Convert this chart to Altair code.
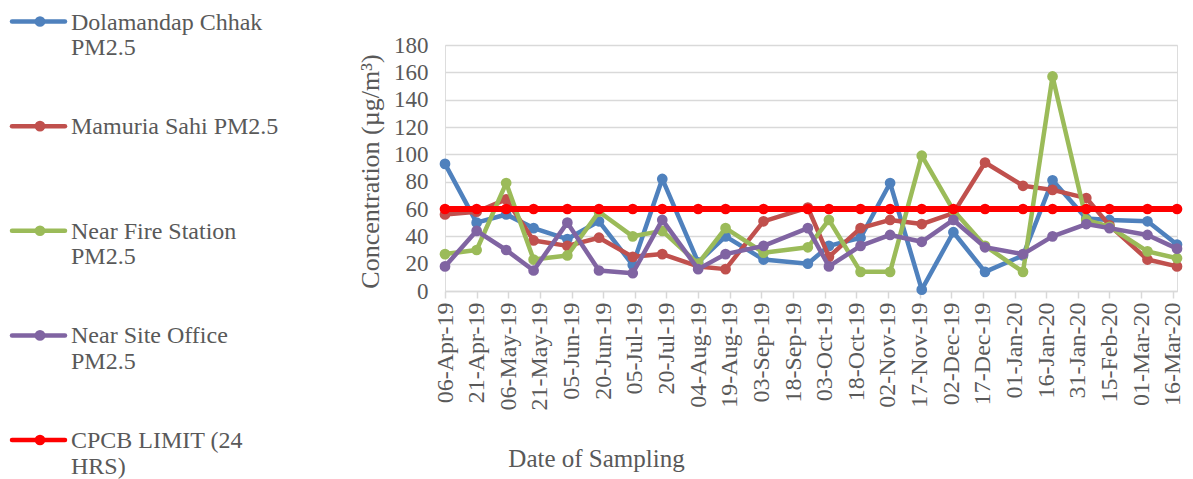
import altair as alt
import pandas as pd
from datetime import datetime, timezone

# ---------------- data ----------------
sample_dates = ["2019-04-06", "2019-04-21", "2019-05-05", "2019-05-18", "2019-06-03",
                "2019-06-18", "2019-07-04", "2019-07-18", "2019-08-04", "2019-08-17",
                "2019-09-04", "2019-09-25", "2019-10-05", "2019-10-20", "2019-11-03",
                "2019-11-18", "2019-12-03", "2019-12-18", "2020-01-05", "2020-01-19",
                "2020-02-04", "2020-02-15", "2020-03-04", "2020-03-18"]

dolamandap = [93, 50, 56, 46, 38, 51, 19, 82, 21, 40, 23, 20, 33, 39, 79, 1, 43, 14, 26, 81, 53, 52, 51, 34]
mamuria    = [56, 58, 67, 37, 33, 39, 25, 27, 18, 16, 51, 61, 25, 46, 52, 49, 57, 94, 77, 74, 68, 48, 23, 18]
fire_stn   = [27, 30, 79, 23, 26, 58, 40, 44, 20, 46, 28, 32, 52, 14, 14, 99, 59, 33, 14, 157, 52, 47, 29, 24]
site_off   = [18, 44, 30, 15, 50, 15, 13, 52, 16, 27, 33, 46, 18, 33, 41, 36, 52, 32, 27, 40, 49, 46, 41, 31]
cpcb_limit = [60] * len(sample_dates)

series_names = ["Dolamandap Chhak PM2.5", "Mamuria Sahi PM2.5", "Near Fire Station PM2.5",
                "Near Site Office PM2.5", "CPCB LIMIT (24 HRS)"]
legend_labels = ["Dolamandap Chhak\nPM2.5", "Mamuria Sahi PM2.5", "Near Fire Station\nPM2.5",
                 "Near Site Office\nPM2.5", "CPCB LIMIT (24\nHRS)"]
series_values = [dolamandap, mamuria, fire_stn, site_off, cpcb_limit]
colors = ["#4F81BD", "#C0504D", "#9BBB59", "#8064A2", "#FF0000"]

tick_dates = ["2019-04-06", "2019-04-21", "2019-05-06", "2019-05-21", "2019-06-05",
              "2019-06-20", "2019-07-05", "2019-07-20", "2019-08-04", "2019-08-19",
              "2019-09-03", "2019-09-18", "2019-10-03", "2019-10-18", "2019-11-02",
              "2019-11-17", "2019-12-02", "2019-12-17", "2020-01-01", "2020-01-16",
              "2020-01-31", "2020-02-15", "2020-03-01", "2020-03-16"]
x_domain = ["2019-04-06", "2020-03-18"]
y_ticks = [0, 20, 40, 60, 80, 100, 120, 140, 160, 180]


def to_ms(s):
    d = datetime.strptime(s, "%Y-%m-%d").replace(tzinfo=timezone.utc)
    return int(d.timestamp() * 1000)


rows = []
for name, vals in zip(series_names, series_values):
    for d, v in zip(sample_dates, vals):
        rows.append({"series": name, "date": d, "value": v})
df = pd.DataFrame(rows)

leg_df = pd.DataFrame({"series": series_names, "label": legend_labels})

FONT = "Liberation Serif"
TXT = "#595959"
GRID = "#D9D9D9"

x_enc = alt.X(
    "date:T",
    scale=alt.Scale(type="utc", domain=[to_ms(x_domain[0]), to_ms(x_domain[1])]),
    axis=alt.Axis(
        values=[to_ms(t) for t in tick_dates],
        labelExpr="utcFormat(datum.value, '%d-%b-%y')",
        labelAngle=-90, labelFont=FONT, labelFontSize=24, labelColor=TXT,
        labelPadding=4, labelOverlap=False, labelFlush=False,
        tickSize=7, tickColor=GRID, tickWidth=1.5,
        domainColor=GRID, domainWidth=1.5, grid=False,
        title="Date of Sampling", titleFont=FONT, titleFontSize=25,
        titleFontWeight="normal", titleColor=TXT,
        titleX=151, titleY=167, titleAlign="center", titleBaseline="middle",
    ),
)
y_enc = alt.Y(
    "value:Q",
    scale=alt.Scale(domain=[0, 180], nice=False),
    axis=alt.Axis(
        values=y_ticks, labelFont=FONT, labelFontSize=23, labelColor=TXT,
        labelPadding=17, ticks=False, domain=False,
        gridColor=GRID, gridWidth=1.5,
        title="Concentration (µg/m³)", titleFont=FONT, titleFontSize=26,
        titleFontWeight="normal", titleColor=TXT,
        titleX=-75, titleY=126, titleAlign="center", titleBaseline="middle",
    ),
)

base = alt.Chart(df)
layers = []
for i, (name, col) in enumerate(zip(series_names, colors)):
    sw = 6 if i == 4 else 4.5
    ln = base.transform_filter(alt.datum.series == name).mark_line(
        color=col, strokeWidth=sw, strokeJoin="round", strokeCap="round"
    ).encode(x=x_enc, y=y_enc)
    pt = base.transform_filter(alt.datum.series == name).mark_circle(
        color=col, size=115, opacity=1
    ).encode(x=x_enc, y=y_enc)
    layers += [ln, pt]

data_layer = alt.layer(*layers)

leg_y = alt.Y("series:N",
              scale=alt.Scale(type="point", domain=series_names, range=[-23.5, 395], padding=0),
              axis=None)
leg_color = alt.Color("series:N", scale=alt.Scale(domain=series_names, range=colors), legend=None)
leg_base = alt.Chart(leg_df)
leg_rule = leg_base.mark_rule(strokeWidth=4.5, strokeCap="round").encode(
    x=alt.value(-433), x2=alt.value(-380), y=leg_y, color=leg_color)
leg_pt = leg_base.mark_circle(size=115, opacity=1).encode(
    x=alt.value(-405), y=leg_y, color=leg_color)
leg_txt = leg_base.mark_text(
    align="left", baseline="alphabetic", dy=8, lineBreak="\n", lineHeight=25.5,
    font=FONT, fontSize=24, color=TXT
).encode(x=alt.value(-374), y=leg_y, text="label:N")
legend_layer = alt.layer(leg_rule, leg_pt, leg_txt)

chart = alt.layer(data_layer, legend_layer).resolve_scale(
    y="independent", color="independent"
).properties(
    width=732, height=246,
    autosize=alt.AutoSizeParams(type="none"),
    padding={"left": 437, "top": 37, "right": 8, "bottom": 190},
).configure_view(stroke=None).configure(background="white")

chart.save("out.html", embed_options={"renderer": "svg", "actions": False})
